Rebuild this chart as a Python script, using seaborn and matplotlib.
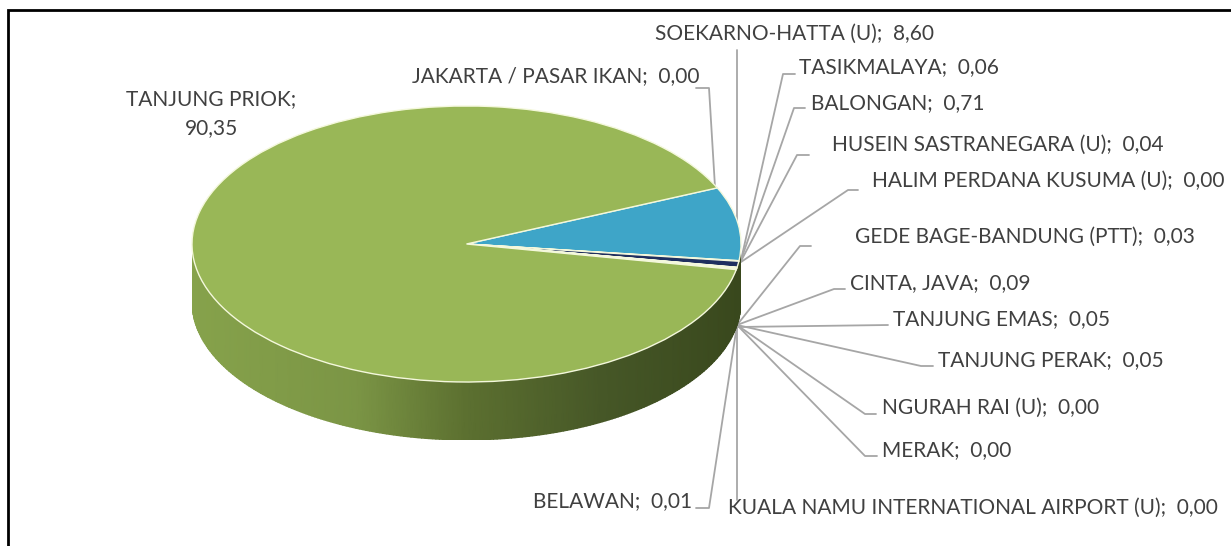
import numpy as np
import matplotlib
matplotlib.use("Agg")
import matplotlib.pyplot as plt
import seaborn as sns
from matplotlib.colors import LinearSegmentedColormap

# ---- data ----
ports = ["JAKARTA / PASAR IKAN", "SOEKARNO-HATTA (U)", "TASIKMALAYA", "BALONGAN",
         "HUSEIN SASTRANEGARA (U)", "HALIM PERDANA KUSUMA (U)", "GEDE BAGE-BANDUNG (PTT)",
         "CINTA, JAVA", "TANJUNG EMAS", "TANJUNG PERAK", "NGURAH RAI (U)", "MERAK",
         "KUALA NAMU INTERNATIONAL AIRPORT (U)", "BELAWAN", "TANJUNG PRIOK"]
shares = [0.00, 8.60, 0.06, 0.71, 0.04, 0.00, 0.03, 0.09, 0.05, 0.05, 0.00, 0.00, 0.00, 0.01, 90.35]
value_text = ["0,00", "8,60", "0,06", "0,71", "0,04", "0,00", "0,03", "0,09", "0,05", "0,05",
              "0,00", "0,00", "0,00", "0,01", "90,35"]

# ---- style / layout ----
slice_colors = ["#4f81bd", "#3ea5c8", "#f79646", "#1f2f5f", "#c0504d", "#8064a2", "#4bacc6",
                "#f79646", "#95b3d7", "#d99694", "#c3d69b", "#b3a2c7", "#93cddd", "#fac090", "#99b757"]
W, H = 1231, 546
label_left = [412, 655, 799, 811, 832, 872, 855, 850, 893, 938, 882, 882, 728, 533, None]
label_base = [82, 40, 73, 109, 151, 187, 243, 289, 325, 366, 414, 456, 514, 507, None]
leaders = [
    [(696, 88), (709, 88), (715, 187)],
    [(737, 50), (737, 226)],
    [(795, 74), (783, 74), (741, 260)],
    [(805, 108), (794, 108), (741, 260)],
    [(809, 155), (797, 155), (741, 261)],
    [(858, 190), (848, 190), (741, 262)],
    [(811, 246), (800, 246), (737, 325)],
    [(845, 289), (834, 289), (737, 325)],
    [(888, 325), (737, 327)],
    [(933, 366), (921, 366), (737, 325)],
    [(876, 414), (865, 414), (737, 325)],
    [(877, 456), (865, 456), (737, 325)],
    [(737, 500), (737, 325)],
    [(696, 508), (709, 508), (737, 325)],
]
TEXT = "#404040"
LINE = "#a6a6a6"

sns.set_theme(style="white")
plt.rcParams["font.family"] = ["Lato", "DejaVu Sans"]
fig = plt.figure(figsize=(W / 100, H / 100), dpi=100, facecolor="white")

# overlay in pixel coordinates for frame, leaders and labels
bg = fig.add_axes([0, 0, 1, 1], zorder=0)
bg.set_xlim(0, W)
bg.set_ylim(H, 0)
bg.axis("off")
bg.plot([8, 8, W], [H, 10, 10], color="black", lw=2, solid_joinstyle="miter")
for pts in leaders:
    xs, ys = zip(*pts)
    bg.plot(xs, ys, color=LINE, lw=1.3)
for name, val, x, y in zip(ports, value_text, label_left, label_base):
    if x is None:
        continue
    bg.text(x, y, f"{name};  {val}", fontsize=15, color=TEXT, ha="left", va="baseline")
bg.text(211, 105, f"{ports[-1]};", fontsize=15, color=TEXT, ha="center", va="baseline")
bg.text(211, 134, value_text[-1], fontsize=15, color=TEXT, ha="center", va="baseline")

# pie: unit circle squashed into an ellipse, with a shaded wall below it
left, right, top, ry, depth_px = 192, 741, 106, 138, 58
bottom = top + 2 * ry + depth_px
ax = fig.add_axes([left / W, 1 - bottom / H, (right - left) / W, (bottom - top) / H], zorder=1)
ax.patch.set_alpha(0)
depth = depth_px / ry

wall_cmap = LinearSegmentedColormap.from_list(
    "wall", [(0, "#86a24b"), (0.3, "#7b9545"), (0.5, "#5c7030"), (0.75, "#465727"), (1, "#39481d")])
theta = np.linspace(np.pi, 2 * np.pi, 240)
X = np.vstack([np.cos(theta), np.cos(theta)])
Y = np.vstack([np.sin(theta), np.sin(theta) - depth])
C = (X + 1) / 2
ax.pcolormesh(X, Y, C, cmap=wall_cmap, shading="gouraud", vmin=0, vmax=1)

ax.pie(shares, colors=slice_colors, startangle=24, counterclock=False, radius=1,
       wedgeprops=dict(edgecolor="#f4f8dc", linewidth=1.0))
ax.set_aspect("auto")
ax.set_xlim(-1, 1)
ax.set_ylim(-1 - depth, 1)
ax.axis("off")

fig.savefig("out.png", dpi=100)
